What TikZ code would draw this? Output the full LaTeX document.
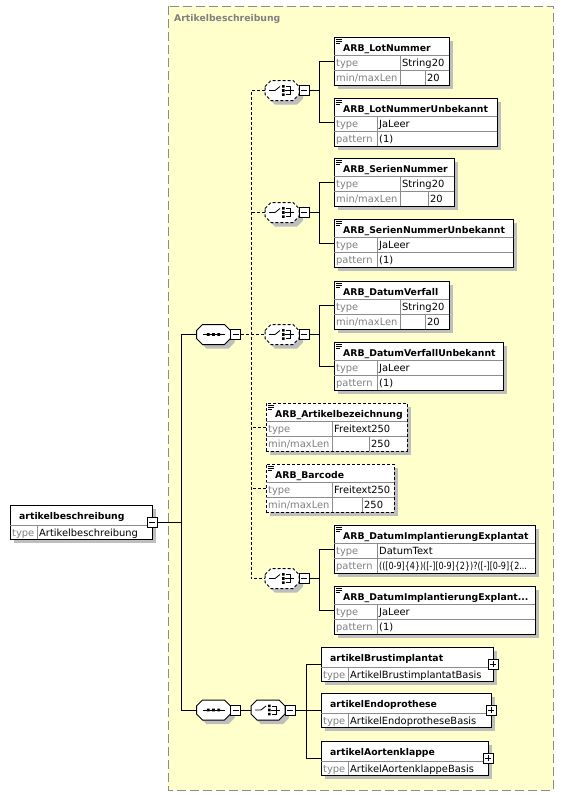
\documentclass[tikz,border=0pt]{standalone}
\usepackage{fontspec}
\usepackage{graphicx}
\setmainfont{DejaVu Sans}
\usetikzlibrary{shadows}

\definecolor{grpfill}{RGB}{255,255,204}
\definecolor{grpline}{RGB}{140,140,140}
\definecolor{shadowgrey}{RGB}{190,190,190}
\definecolor{lblgrey}{RGB}{128,128,128}
\definecolor{cellgrey}{RGB}{140,140,140}

\tikzset{
    shad/.style={drop shadow={shadow xshift=4pt,shadow yshift=-4pt,fill=shadowgrey,opacity=1}},
    elbox/.style={draw,fill=white,line width=1pt,inner sep=0pt,outer sep=0pt,shad},
    optbox/.style={elbox,dash pattern=on 3pt off 2pt},
    cellline/.style={cellgrey,line width=0.6pt},
    ttl/.style={font=\fontsize{9.3}{11}\selectfont\bfseries,anchor=base west,inner sep=0pt},
    lbl/.style={font=\fontsize{9.9}{11}\selectfont,text=lblgrey,anchor=base west,inner sep=0pt},
    val/.style={font=\fontsize{9.9}{11}\selectfont,anchor=base west,inner sep=0pt},
    comp/.style={draw,fill=white,line width=1pt,shad},
    optcomp/.style={comp,dash pattern=on 3pt off 2pt},
    pm/.style={draw,fill=white,line width=0.8pt,minimum size=10pt,inner sep=0pt,outer sep=0pt},
    sign/.style={line width=0.8pt},
    link/.style={line width=1pt},
    optlink/.style={link,dash pattern=on 3pt off 2pt},
}

\newcommand{\docmark}[2]{%
    \draw[line width=0.7pt] (#1+2,#2+2) -- (#1+8,#2+2) (#1+2,#2+4) -- (#1+8,#2+4) (#1+2,#2+6) -- (#1+6,#2+6);
}
\newcommand{\minusbox}[2]{%
    \node[pm] (#1) at (#2) {};
    \draw[sign] ([xshift=-3pt]#1.center) -- ([xshift=3pt]#1.center);
}
\newcommand{\plusbox}[2]{%
    \node[pm] (#1) at (#2) {};
    \draw[sign] ([xshift=-3pt]#1.center) -- ([xshift=3pt]#1.center)
        ([yshift=-3pt]#1.center) -- ([yshift=3pt]#1.center);
}
\newcommand{\compnode}[4]{%
    \path[#4] (#2-17,#3-4) -- (#2-11,#3-10) -- (#2+11,#3-10) -- (#2+17,#3-4)
        -- (#2+17,#3+4) -- (#2+11,#3+10) -- (#2-11,#3+10) -- (#2-17,#3+4) -- cycle;
    \node[inner sep=0pt,outer sep=0pt,minimum width=34pt,minimum height=20pt] (#1) at (#2,#3) {};
}
\newcommand{\lenbox}[9]{%
    \node[#9,minimum width=#4pt,minimum height=48pt,anchor=north west] (#1) at (#2,#3) {};
    \draw[cellline] (#2,#3+18) -- (#2+#4,#3+18) (#2,#3+33) -- (#2+#4,#3+33)
        (#2+66,#3+18) -- (#2+66,#3+48) (#7,#3+33) -- (#7,#3+48);
    \docmark{#2}{#3}
    \node[ttl] (#1t) at (#2+9,#3+14) {#5};
    \node[lbl] (#1k1) at (#2+2,#3+29) {type};
    \node[val] (#1v1) at (#2+68,#3+29) {#6};
    \node[lbl] (#1k2) at (#2+2,#3+44) {min/maxLen};
    \node[val] (#1v2) at (#7+2,#3+44) {#8};
}
\newcommand{\patbox}[7]{%
    \node[elbox,minimum width=#4pt,minimum height=48pt,anchor=north west] (#1) at (#2,#3) {};
    \draw[cellline] (#2,#3+18) -- (#2+#4,#3+18) (#2,#3+33) -- (#2+#4,#3+33)
        (#2+43,#3+18) -- (#2+43,#3+48);
    \docmark{#2}{#3}
    \node[ttl] (#1t) at (#2+9,#3+14) {#5};
    \node[lbl] (#1k1) at (#2+2,#3+29) {type};
    \node[val] (#1v1) at (#2+45,#3+29) {#6};
    \node[lbl] (#1k2) at (#2+2,#3+44) {pattern};
    \node[val] (#1v2) at (#2+45,#3+44) {#7};
}
\newcommand{\typebox}[6]{%
    \node[elbox,minimum width=#4pt,minimum height=34pt,anchor=north west] (#1) at (#2,#3) {};
    \draw[cellline] (#2,#3+20) -- (#2+#4,#3+20) (#2+27,#3+20) -- (#2+27,#3+34);
    \node[ttl] (#1t) at (#2+9,#3+14) {#5};
    \node[lbl] (#1k1) at (#2+2,#3+31) {type};
    \node[val] (#1v1) at (#2+29,#3+31) {#6};
}
\newcommand{\seqicon}[1]{%
    \begin{scope}[shift={(#1.center)}]
        \draw[sign] (-11,0) -- (11,0);
        \fill (-6.6,-1.4) rectangle (-3.8,1.4) (-1.4,-1.4) rectangle (1.4,1.4) (3.8,-1.4) rectangle (6.6,1.4);
    \end{scope}
}
\newcommand{\choiceicon}[1]{%
    \begin{scope}[shift={(#1.center)}]
        \draw[sign] (-13,0) -- (-7,0) -- (-2,-4);
        \fill (0,-5.4) rectangle (2.6,-2.8) (0,-1.3) rectangle (2.6,1.3) (0,2.8) rectangle (2.6,5.4);
        \draw[sign] (4,-4) -- (8,-4) -- (8,4) -- (4,4) (2.6,0) -- (12,0);
    \end{scope}
}

\begin{document}
\begin{tikzpicture}[x=1pt,y=-1pt]
    \useasboundingbox (0,0) rectangle (564,796);

    \draw[grpline,fill=grpfill,line width=1pt,dash pattern=on 9pt off 4pt] (168,6) rectangle (553,790);
    \node[ttl,text=lblgrey] (grpt) at (174,21) {Artikelbeschreibung};

    \coordinate (trunk) at (181,0);
    \coordinate (dbus) at (251,0);
    \coordinate (cbus) at (319,0);
    \coordinate (abus) at (306,0);

    \typebox{root}{10}{505}{142}{artikelbeschreibung}{Artikelbeschreibung}
    \minusbox{rootm}{root.east}

    \compnode{s1}{213.5}{334.5}{comp}
    \seqicon{s1}
    \minusbox{s1m}{[xshift=5pt]s1.east}
    \compnode{s2}{213.5}{710}{comp}
    \seqicon{s2}
    \minusbox{s2m}{[xshift=5pt]s2.east}

    \compnode{c1}{282}{90.5}{optcomp}
    \compnode{c2}{282}{212.5}{optcomp}
    \compnode{c3}{282}{334.5}{optcomp}
    \compnode{c4}{282}{578.5}{optcomp}
    \compnode{c5}{268}{710}{comp}
    \foreach \c in {c1,c2,c3,c4,c5} {
        \choiceicon{\c}
        \minusbox{\c m}{[xshift=5pt]\c.east}
    }

    \lenbox{lot}{334}{37}{115}{ARB\_LotNummer}{String20}{425}{20}{elbox}
    \patbox{lotu}{334}{98}{163}{ARB\_LotNummerUnbekannt}{JaLeer}{(1)}
    \lenbox{ser}{334}{158}{120}{ARB\_SerienNummer}{String20}{428}{20}{elbox}
    \patbox{seru}{334}{219}{179}{ARB\_SerienNummerUnbekannt}{JaLeer}{(1)}
    \lenbox{dvf}{334}{281}{115}{ARB\_DatumVerfall}{String20}{425}{20}{elbox}
    \patbox{dvfu}{334}{342}{169}{ARB\_DatumVerfallUnbekannt}{JaLeer}{(1)}
    \lenbox{bez}{266}{403}{141}{ARB\_Artikelbezeichnung}{Freitext250}{369}{250}{optbox}
    \lenbox{bar}{266}{464}{128}{ARB\_Barcode}{Freitext250}{362}{250}{optbox}
    \patbox{imp}{334}{525}{201}{ARB\_DatumImplantierungExplantat}{DatumText}{\scalebox{0.81}[1]{(([0-9]\{4\})([-][0-9]\{2\})?([-][0-9]\{2...}}
    \patbox{impu}{334}{586}{201}{ARB\_DatumImplantierungExplant...}{JaLeer}{(1)}

    \typebox{bru}{321}{647}{172}{artikelBrustimplantat}{ArtikelBrustimplantatBasis}
    \plusbox{brup}{bru.east}
    \typebox{endo}{321}{693}{170}{artikelEndoprothese}{ArtikelEndoprotheseBasis}
    \plusbox{endop}{endo.east}
    \typebox{aort}{321}{741}{167}{artikelAortenklappe}{ArtikelAortenklappeBasis}
    \plusbox{aortp}{aort.east}

    \draw[link] (rootm.east) -- (rootm.east -| trunk);
    \draw[link] (s1.west) -- (s1.west -| trunk) -- (s2.west -| trunk) -- (s2.west);

    \draw[optlink] (s1m.east) -- (c3.west);
    \draw[optlink] (c1.west) -- (c1.west -| dbus) -- (c4.west -| dbus) -- (c4.west);
    \draw[optlink] (c2.west) -- (c2.west -| dbus);
    \draw[optlink] (bez.west) -- (bez.west -| dbus);
    \draw[optlink] (bar.west) -- (bar.west -| dbus);

    \foreach \c/\a/\b in {c1/lot/lotu,c2/ser/seru,c3/dvf/dvfu,c4/imp/impu} {
        \draw[link] (\c m.east) -- (\c m.east -| cbus);
        \draw[link] (\a.west) -- (\a.west -| cbus) -- (\b.west -| cbus) -- (\b.west);
    }

    \draw[link] (s2m.east) -- (c5.west);
    \draw[link] (c5m.east) -- (c5m.east -| abus);
    \draw[link] (bru.west) -- (bru.west -| abus) -- (aort.west -| abus) -- (aort.west);
    \draw[link] (endo.west) -- (endo.west -| abus);
\end{tikzpicture}
\end{document}
